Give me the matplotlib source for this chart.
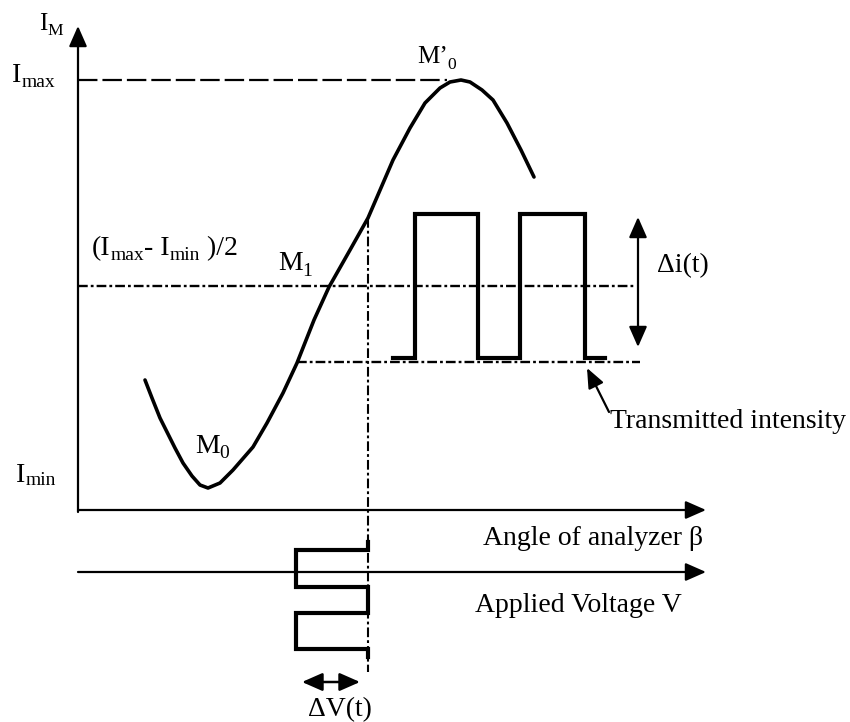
import matplotlib
matplotlib.use('Agg')
import matplotlib.pyplot as plt

plt.rcParams['font.family'] = ['Liberation Serif', 'DejaVu Serif']
plt.rcParams['lines.scale_dashes'] = False

# sketch is in pixel units (x right, y down)
# intensity curve I_M(beta)
curve_x = [145, 152, 160, 167, 175, 183, 192, 200, 208, 220, 233, 253, 267, 283,
           297, 314, 329, 350, 368, 393, 410, 425, 440, 450, 461, 470, 482, 493,
           507, 521, 534]
curve_y = [380, 398, 418, 432, 448, 463, 476, 485, 488, 483, 470, 447, 423, 393,
           363, 320, 287, 250, 218, 160, 128, 103, 88, 82, 80, 82, 90, 100,
           123, 150, 177]

# transmitted intensity square wave
wave_x = [393, 415, 415, 478, 478, 520, 520, 585, 585, 605]
wave_y = [358, 358, 214, 214, 358, 358, 214, 214, 358, 358]

# applied voltage square wave
volt_x = [368, 368, 296, 296, 368, 368, 296, 296, 368, 368]
volt_y = [542, 550, 550, 587, 587, 613, 613, 649, 649, 657]

# reference levels
y_max, y_mid, y_low = 80, 286, 362
x_axis0 = 78
x_bias = 368

fig = plt.figure(figsize=(8.5, 7.22), dpi=100)
ax = fig.add_axes([0, 0, 1, 1])
ax.set_xlim(0, 850)
ax.set_ylim(722, 0)
ax.axis('off')
renderer = fig.canvas.get_renderer()


def arrow(start, end, style='-|>', lw=1.6):
    ax.annotate('', xy=end, xytext=start,
                arrowprops=dict(arrowstyle=style + ',head_length=1.25,head_width=0.55',
                                lw=lw, color='black', shrinkA=0, shrinkB=0))


def label(x, y, parts, size=20, drop=6):
    # parts: (text, is_subscript); pieces laid out left to right
    for s, sub in parts:
        t = ax.text(x, y + (drop if sub else 0), s, fontsize=size * 0.7 if sub else size,
                    va='baseline')
        x = t.get_window_extent(renderer).x1


# axes
arrow((x_axis0, 512), (x_axis0, 26))
arrow((x_axis0, 510), (706, 510))
arrow((x_axis0, 572), (706, 572))

# guide lines
ax.plot([x_axis0, 447], [y_max, y_max], color='black', lw=1.6, dashes=(14, 3.6))
dd = (7, 2.2, 2, 2.2)
ax.plot([x_axis0, 636], [y_mid, y_mid], color='black', lw=1.7, dashes=dd)
ax.plot([297, 640], [y_low, y_low], color='black', lw=1.7, dashes=dd)
ax.plot([x_bias, x_bias], [218, 672], color='black', lw=1.5, dashes=dd)

# curve and signals
ax.plot(curve_x, curve_y, color='black', lw=2.6, solid_capstyle='round')
ax.plot(wave_x, wave_y, color='black', lw=3.0, solid_joinstyle='miter')
ax.plot(volt_x, volt_y, color='black', lw=3.0, solid_joinstyle='miter')

# amplitude arrows
arrow((638, 217), (638, 347), style='<|-|>')
arrow((302, 682), (360, 682), style='<|-|>', lw=1.8)
ax.annotate('', xy=(587, 368), xytext=(609, 412),
            arrowprops=dict(arrowstyle='-|>,head_length=1.2,head_width=0.5',
                            lw=1.6, color='black', shrinkA=0, shrinkB=0))

# labels
label(39, 30, [('I', False), ('M', True)], size=18, drop=5)
label(12, 82, [('I', False), ('max', True)], drop=5)
label(16, 482, [('I', False), ('min', True)], drop=3)
label(417, 63, [('M’', False), ('0', True)], size=18, drop=6)
label(278, 270, [('M', False), ('1', True)], drop=6)
label(195, 453, [('M', False), ('0', True)], drop=5)
label(92, 255, [('(I', False), ('max', True), ('- I', False), ('min', True),
                (' )/2', False)], drop=5)
ax.text(657, 272, 'Δi(t)', fontsize=20, va='baseline')
ax.text(308, 716, 'ΔV(t)', fontsize=20, va='baseline')
ax.text(610, 428, 'Transmitted intensity', fontsize=20, va='baseline')
ax.text(703, 545, 'Angle of analyzer β', fontsize=20, va='baseline', ha='right')
ax.text(475, 612, 'Applied Voltage V', fontsize=20, va='baseline')

fig.savefig('out.png', dpi=100)
